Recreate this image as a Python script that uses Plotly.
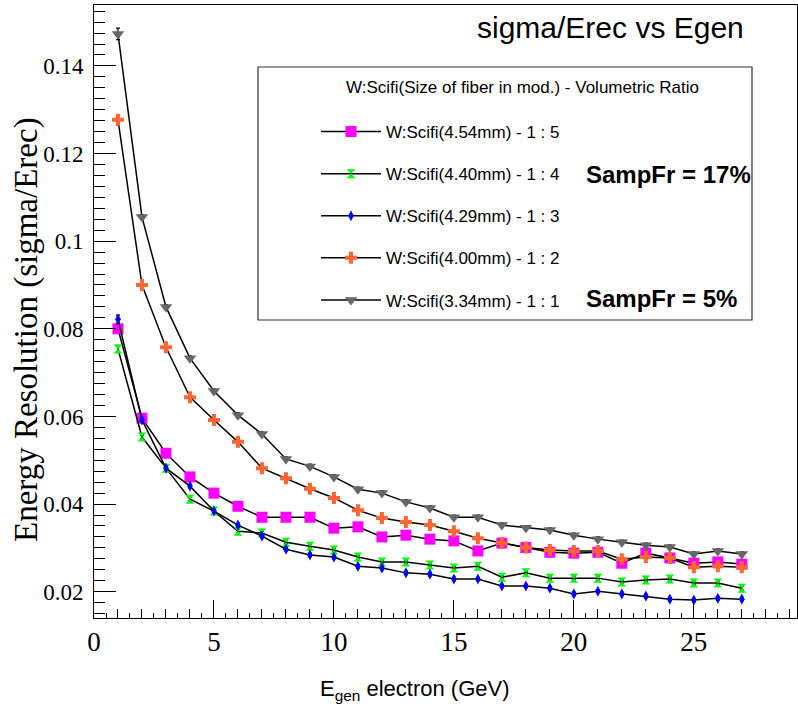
import plotly.graph_objects as go

# ---------------- data ----------------
energy = list(range(1, 28))

res_454 = [0.0800, 0.0596, 0.0516, 0.0462, 0.0425, 0.0395, 0.0370, 0.0370, 0.0370,
           0.0345, 0.0348, 0.0325, 0.0329, 0.0320, 0.0316, 0.0293, 0.0311, 0.0301,
           0.0290, 0.0288, 0.0290, 0.0265, 0.0288, 0.0277, 0.0265, 0.0268, 0.0263]
res_440 = [0.0754, 0.0553, 0.0482, 0.0411, 0.0384, 0.0338, 0.0334, 0.0313, 0.0304,
           0.0295, 0.0279, 0.0268, 0.0268, 0.0261, 0.0254, 0.0258, 0.0233, 0.0243,
           0.0231, 0.0231, 0.0231, 0.0222, 0.0227, 0.0229, 0.0220, 0.0220, 0.0208]
res_429 = [0.0822, 0.0592, 0.0482, 0.0441, 0.0384, 0.0352, 0.0327, 0.0297, 0.0284,
           0.0279, 0.0258, 0.0254, 0.0243, 0.0240, 0.0229, 0.0229, 0.0213, 0.0213,
           0.0208, 0.0195, 0.0201, 0.0195, 0.0190, 0.0183, 0.0181, 0.0185, 0.0183]
res_400 = [0.1277, 0.0900, 0.0758, 0.0644, 0.0592, 0.0542, 0.0482, 0.0459, 0.0435,
           0.0414, 0.0386, 0.0368, 0.0359, 0.0352, 0.0338, 0.0322, 0.0311, 0.0301,
           0.0295, 0.0293, 0.0293, 0.0274, 0.0279, 0.0277, 0.0256, 0.0258, 0.0256]
res_334 = [0.1473, 0.1055, 0.0850, 0.0733, 0.0658, 0.0603, 0.0560, 0.0503, 0.0486,
           0.0462, 0.0434, 0.0425, 0.0405, 0.0391, 0.0370, 0.0370, 0.0352, 0.0346,
           0.0341, 0.0329, 0.0320, 0.0313, 0.0306, 0.0302, 0.0286, 0.0293, 0.0286]

err_454 = [0.0008] + [0.0004] * 26
err_440 = [0.0008] + [0.0004] * 26
err_429 = [0.0009] + [0.0004] * 26
err_400 = [0.0012] + [0.0005] * 26
err_334 = [0.0013] + [0.0005] * 26

names = ["W:Scifi(4.54mm) - 1 : 5", "W:Scifi(4.40mm) - 1 : 4", "W:Scifi(4.29mm) - 1 : 3",
         "W:Scifi(4.00mm) - 1 : 2", "W:Scifi(3.34mm) - 1 : 1"]
series = [res_454, res_440, res_429, res_400, res_334]
errors = [err_454, err_440, err_429, err_400, err_334]
colors = ["#ff00ff", "#00ff00", "#0000ff", "#ff6633", "#666666"]
symbols = ["square", "hourglass", "diamond-tall", "cross", "triangle-down"]
sizes = [11, 9, 8, 10, 11]

x_ticks = [0, 5, 10, 15, 20, 25]
y_ticks = [0.02, 0.04, 0.06, 0.08, 0.1, 0.12, 0.14]
y_ticktext = ["0.02", "0.04", "0.06", "0.08", "0.1", "0.12", "0.14"]

# ---------------- figure ----------------
W, H = 798, 714
L, R, T, B = 94, 1, 5, 96
pw, ph = W - L - R, H - T - B


def px(x):
    return (x - L) / pw


def py(y):
    return (H - B - y) / ph


fig = go.Figure()
for i, (nm, ys, er, c, s, sz) in enumerate(zip(names, series, errors, colors, symbols, sizes)):
    fig.add_trace(go.Scatter(
        x=energy, y=ys, name=nm, mode="lines+markers",
        legendgroup=f"g{i}",
        line=dict(color="black", width=1.5),
        marker=dict(symbol=s, size=sz, color=c, line=dict(width=0)),
        error_y=dict(type="data", array=er, color="black", thickness=1.2, width=2),
    ))

serif = "Liberation Serif, Times New Roman, serif"
sans = "Liberation Sans, Arial, Helvetica, sans-serif"

fig.update_layout(
    width=W, height=H,
    margin=dict(l=L, r=R, t=T, b=B, autoexpand=False),
    paper_bgcolor="white", plot_bgcolor="white",
    showlegend=True,
    legend=dict(
        x=px(316), y=py(114), xanchor="left", yanchor="top",
        bgcolor="rgba(0,0,0,0)", borderwidth=0,
        font=dict(family=sans, size=17, color="black"),
        tracegroupgap=17, itemwidth=60, traceorder="grouped",
    ),
    xaxis=dict(
        range=[0, 29.3], showgrid=False, zeroline=False, automargin=False,
        showline=True, linecolor="black", linewidth=1, mirror=True,
        ticks="inside", ticklen=18, tickcolor="black", tickwidth=1,
        tickvals=x_ticks, ticktext=[str(v) for v in x_ticks],
        tickfont=dict(family=serif, size=27, color="black"),
        minor=dict(dtick=0.5, tick0=0, ticks="inside", ticklen=5, tickcolor="black", showgrid=False),
    ),
    xaxis2=dict(
        range=[0, 29.3], overlaying="x", side="bottom", anchor="y", automargin=False,
        showgrid=False, zeroline=False, showline=False, showticklabels=False,
        ticks="inside", ticklen=9, tickcolor="black", dtick=1, tick0=0,
    ),
    yaxis=dict(
        range=[0.0140, 0.1539], showgrid=False, zeroline=False, automargin=False,
        showline=True, linecolor="black", linewidth=1, mirror=True,
        ticks="inside", ticklen=22, tickcolor="black", tickwidth=1,
        tickvals=y_ticks, ticktext=y_ticktext,
        tickfont=dict(family=serif, size=23, color="black"),
        ticklabelstandoff=5,
        minor=dict(dtick=0.0025, tick0=0, ticks="inside", ticklen=11, tickcolor="black", showgrid=False),
    ),
)

# invisible trace to activate xaxis2 ticks
fig.add_trace(go.Scatter(x=[energy[0]], y=[res_454[0]], xaxis="x2", mode="markers",
                         marker=dict(opacity=0), showlegend=False, hoverinfo="skip"))

# legend frame
fig.add_shape(type="rect", xref="paper", yref="paper",
              x0=px(258), x1=px(752), y0=py(320), y1=py(67),
              line=dict(color="#333333", width=1.2), fillcolor="rgba(0,0,0,0)")

ann = [
    dict(text="W:Scifi(Size of fiber in mod.) - Volumetric Ratio", x=px(522), y=py(88),
         xanchor="center", yanchor="middle", font=dict(family=sans, size=17, color="black")),
    dict(text="<b>SampFr = 17%</b>", x=px(584), y=py(174), xanchor="left", yanchor="middle",
         font=dict(family=sans, size=24, color="black")),
    dict(text="<b>SampFr = 5%</b>", x=px(584), y=py(299), xanchor="left", yanchor="middle",
         font=dict(family=sans, size=24, color="black")),
    dict(text="sigma/Erec vs Egen", x=px(746), y=py(28), xanchor="right", yanchor="middle",
         font=dict(family=sans, size=30, color="black")),
    dict(text="Energy Resolution (sigma/Erec)", x=px(27), y=py(330), textangle=-90,
         xanchor="center", yanchor="middle", font=dict(family=serif, size=33, color="black")),
    dict(text="E<sub>gen</sub> electron (GeV)", x=px(415), y=py(690), xanchor="center",
         yanchor="middle", font=dict(family=sans, size=22, color="black")),
]
for a in ann:
    fig.add_annotation(xref="paper", yref="paper", showarrow=False, **a)

fig.write_html("out.html", config={"displayModeBar": False},
               post_script="document.body.style.margin='0';document.body.style.padding='0';")
